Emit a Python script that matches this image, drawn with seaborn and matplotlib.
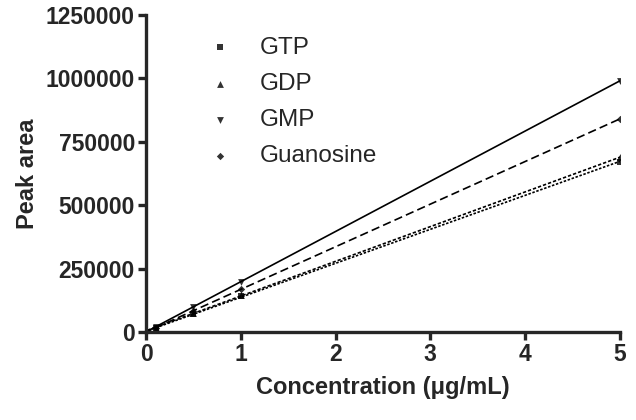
import matplotlib
matplotlib.use("Agg")
import matplotlib.pyplot as plt
import seaborn as sns
import pandas as pd

# concentrations (ug/mL) and peak areas
conc = [0.1, 0.5, 1, 5]
gtp = [14000, 70000, 140000, 672000]
gdp = [15000, 73000, 147000, 688000]
gmp = [20000, 100000, 198000, 990000]
guanosine = [17000, 84000, 168000, 840000]

series = ["GTP", "GDP", "GMP", "Guanosine"]
values = [gtp, gdp, gmp, guanosine]

df = pd.DataFrame({
    "conc": conc * len(series),
    "area": [v for s in values for v in s],
    "compound": [name for name in series for _ in conc],
})

sns.set_style("ticks")
plt.rcParams["font.family"] = ["Liberation Sans", "DejaVu Sans"]

fig = plt.figure(figsize=(6.36, 4.2), dpi=100)
ax = fig.add_axes([0.2296, 0.2095, 0.745, 0.755])

markers = {"GTP": "s", "GDP": "^", "GMP": "v", "Guanosine": "D"}
sizes = {"GTP": 18, "GDP": 24, "GMP": 24, "Guanosine": 14}
styles = {"GTP": (0, (1.5, 1)), "GDP": (0, (2, 1.2)), "GMP": "-", "Guanosine": (0, (5, 2.5))}

for name in series:
    sub = df[df["compound"] == name]
    sns.regplot(data=sub, x="conc", y="area", ax=ax, ci=None, truncate=False,
                marker=markers[name], color="black", label=name,
                scatter_kws={"s": sizes[name], "linewidths": 0},
                line_kws={"lw": 1.2, "ls": styles[name]})

ax.set_xlim(0, 5)
ax.set_ylim(0, 1250000)
ax.set_xticks([0, 1, 2, 3, 4, 5])
ax.set_yticks([0, 250000, 500000, 750000, 1000000, 1250000])
ax.set_yticklabels([str(t) for t in [0, 250000, 500000, 750000, 1000000, 1250000]])
for sp in ["top", "right"]:
    ax.spines[sp].set_visible(False)
for sp in ["left", "bottom"]:
    ax.spines[sp].set_linewidth(2.4)
ax.tick_params(width=2.4, length=6, labelsize=16.5, pad=2)
for lab in ax.get_xticklabels() + ax.get_yticklabels():
    lab.set_fontweight("bold")

ax.set_xlabel("Concentration (\u03bcg/mL)", fontsize=17, fontweight="bold", labelpad=7)
ax.set_ylabel("Peak area", fontsize=17, fontweight="bold", labelpad=5)

leg = ax.legend(loc="upper left", bbox_to_anchor=(0.08, 1.0), frameon=False,
                fontsize=17.5, handletextpad=1.0, labelspacing=0.58,
                handlelength=1.2, markerscale=1.0)

fig.savefig("out.png", dpi=100)
